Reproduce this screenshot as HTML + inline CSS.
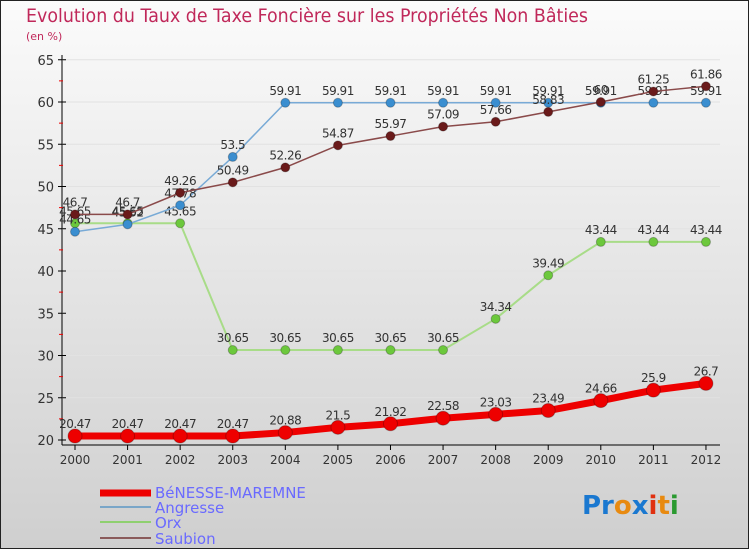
<!DOCTYPE html>
<html><head><meta charset="utf-8"><style>
body{margin:0;width:750px;height:550px;overflow:hidden;font-family:"DejaVu Sans","Liberation Sans",sans-serif;}
svg text{font-family:"DejaVu Sans","Liberation Sans",sans-serif;}
</style></head><body>
<svg id="c" width="750" height="550" xmlns="http://www.w3.org/2000/svg">
<defs><linearGradient id="bg" x1="0" y1="0" x2="0" y2="1"><stop offset="0" stop-color="#fbfbfb"/><stop offset="1" stop-color="#cfcfcf"/></linearGradient></defs>
<rect x="0.5" y="0.5" width="748" height="548" fill="url(#bg)" stroke="#222"/>
<text x="26" y="22" font-size="19" fill="#c0285a" textLength="562" lengthAdjust="spacingAndGlyphs">Evolution du Taux de Taxe Foncière sur les Propriétés Non Bâties</text>
<text x="26" y="40" font-size="11" fill="#c0285a">(en %)</text>
<g id="axes"></g><g id="series"></g>
<g>
<line x1="100" y1="493" x2="151" y2="493" stroke="#ee0000" stroke-width="7"/>
<text x="155" y="498" font-size="15" fill="#6a6aff">BéNESSE-MAREMNE</text>
<line x1="100" y1="507" x2="151" y2="507" stroke="#7aa6c8" stroke-width="2"/>
<text x="155" y="513" font-size="15" fill="#6a6aff">Angresse</text>
<line x1="100" y1="522" x2="151" y2="522" stroke="#8fd070" stroke-width="2"/>
<text x="155" y="528" font-size="15" fill="#6a6aff">Orx</text>
<line x1="100" y1="538" x2="151" y2="538" stroke="#8a5a5a" stroke-width="2"/>
<text x="155" y="544" font-size="15" fill="#6a6aff">Saubion</text>
</g>
<g font-size="26" font-weight="bold">
<text x="582" y="514"><tspan fill="#1a78d0">Pr</tspan><tspan fill="#e88a10">o</tspan><tspan fill="#1a78d0">x</tspan><tspan fill="#e03010">i</tspan><tspan fill="#e88a10">t</tspan><tspan fill="#2a9a30">i</tspan></text>
</g>
</svg>
<script>
const years=["2000","2001","2002","2003","2004","2005","2006","2007","2008","2009","2010","2011","2012"];
const yTicks=[20,25,30,35,40,45,50,55,60,65];
const benesse=[20.47,20.47,20.47,20.47,20.88,21.5,21.92,22.58,23.03,23.49,24.66,25.9,26.7];
const angresse=[44.65,45.52,47.78,53.5,59.91,59.91,59.91,59.91,59.91,59.91,59.91,59.91,59.91];
const orx=[45.65,45.65,45.65,30.65,30.65,30.65,30.65,30.65,34.34,39.49,43.44,43.44,43.44];
const saubion=[46.7,46.7,49.26,50.49,52.26,54.87,55.97,57.09,57.66,58.83,60,61.25,61.86];
const NS="http://www.w3.org/2000/svg";
const X=i=>75+i*52.58;
const Y=v=>440-(v-20)*8.45;
function mk(t,a,p){const e=document.createElementNS(NS,t);for(const k in a)e.setAttribute(k,a[k]);p.appendChild(e);return e;}
const ax=document.getElementById('axes');
const yl=mk('line',{x1:62,y1:55,x2:62,y2:445,stroke:'#000'},ax);


const xl=mk('line',{x1:62,y1:445,x2:720,y2:445,stroke:'#000'},ax);


yTicks.forEach(v=>{
  if(v>20)mk('line',{x1:62,y1:Y(v),x2:720,y2:Y(v),stroke:'#e2e2e2'},ax);
  mk('line',{x1:58,y1:Y(v),x2:66,y2:Y(v),stroke:'#000'},ax);
  if(v<65)mk('line',{x1:59,y1:Y(v+2.5),x2:63,y2:Y(v+2.5),stroke:'#e00'},ax);
  const t=mk('text',{x:54,y:Y(v)+5,'font-size':13,fill:'#333','text-anchor':'end'},ax);
  t.textContent=v;
  
  
});
years.forEach((y,i)=>{
  mk('line',{x1:X(i),y1:445,x2:X(i),y2:450,stroke:'#000'},ax);
  const t=mk('text',{x:X(i),y:464,'font-size':12,fill:'#333','text-anchor':'middle'},ax);
  t.textContent=y;
  
  
});
const sg=document.getElementById('series');
function series(vals,name,line,dot,w,r){
  const g=mk('g',{},sg);
  
  
  mk('polyline',{points:vals.map((v,i)=>X(i)+','+Y(v)).join(' '),fill:'none',stroke:line,'stroke-width':w,'stroke-linejoin':'round'},g);
  vals.forEach((v,i)=>{
    const c=mk('circle',{cx:X(i),cy:Y(v),r:r,fill:dot,stroke:'rgba(0,0,0,0.25)','stroke-width':1},g);
    
    
    const t=mk('text',{x:X(i),y:Y(v)-8,'font-size':12,fill:'#333','text-anchor':'middle','letter-spacing':'-0.5'},g);
    t.textContent=String(v);
    
    
  });
}
series(orx,'orx','#a8dc88','#6cc83c',2,4.5);
series(angresse,'angresse','#78aad6','#3a8ed0',1.5,4.5);
series(saubion,'saubion','#8a4a4a','#6a1a1a',1.5,4.5);
series(benesse,'benesse','#ee0000','#ee0000',7,7);
</script>
</body></html>
